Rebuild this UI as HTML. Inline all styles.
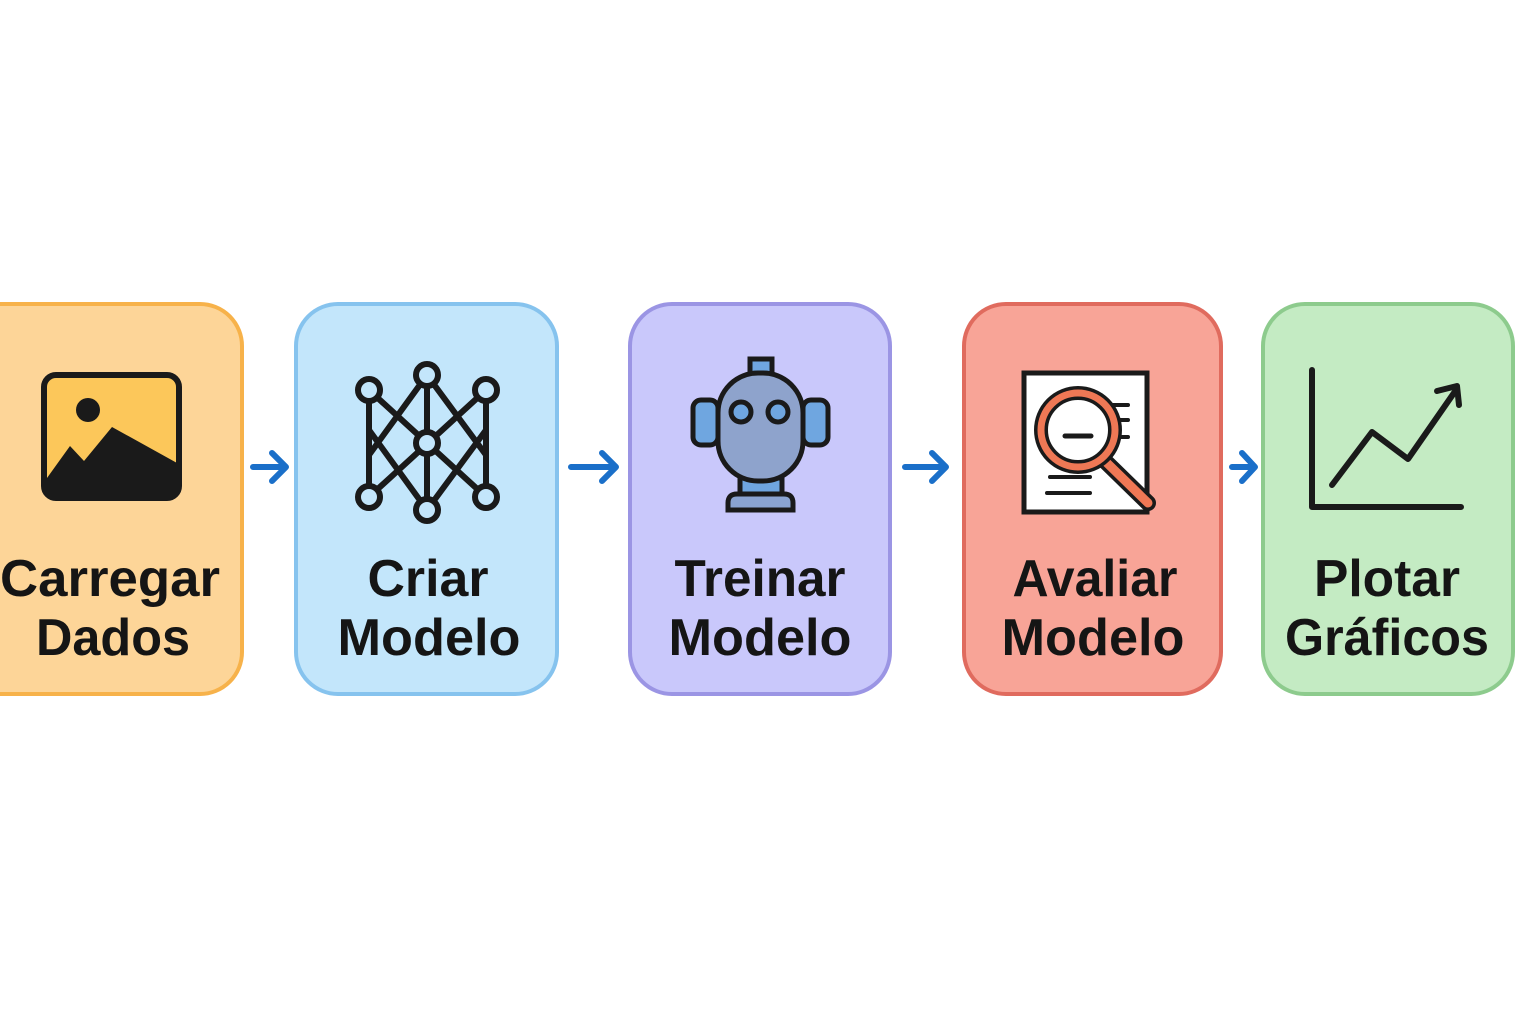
<!DOCTYPE html>
<html><head><meta charset="utf-8"><style>
html,body{margin:0;padding:0;background:#fff;width:1536px;height:1024px;overflow:hidden}
text{font-family:"Liberation Sans",sans-serif;font-weight:bold;fill:#151515;font-size:52px}
</style></head><body>
<svg width="1536" height="1024" viewBox="0 0 1536 1024" xmlns="http://www.w3.org/2000/svg">
<rect width="1536" height="1024" fill="#fff"/>
<rect x="-40" y="304" width="282" height="390" rx="42" fill="#fdd598" stroke="#f7b24a" stroke-width="4"/>
<rect x="296" y="304" width="261" height="390" rx="42" fill="#c3e6fb" stroke="#86c3ee" stroke-width="4"/>
<rect x="630" y="304" width="260" height="390" rx="42" fill="#c9c8fb" stroke="#9b95e4" stroke-width="4"/>
<rect x="964" y="304" width="257" height="390" rx="42" fill="#f8a497" stroke="#e06b5e" stroke-width="4"/>
<rect x="1263" y="304" width="250" height="390" rx="42" fill="#c4ebc3" stroke="#8dcb8d" stroke-width="4"/>
<g stroke="#1a6fc9" stroke-width="6" fill="none" stroke-linecap="round" stroke-linejoin="round">
<path d="M253 467H285M272 453L286 467L272 481"/>
<path d="M571 467H616M602 453L616 467L602 481"/>
<path d="M905 467H946M932 453L946 467L932 481"/>
<path d="M1232 467H1254M1242 453L1255 467L1242 481"/>
</g>
<rect x="44" y="375" width="135" height="123" rx="12" fill="#fcc75a" stroke="#1a1a1a" stroke-width="6"/>
<circle cx="88" cy="410" r="12" fill="#1a1a1a"/>
<path d="M47 478L70 446L84 461L112 427L177 463V495H47Z" fill="#1a1a1a"/>
<g stroke="#1a1a1a" stroke-width="6" fill="none">
<path d="M369 390V497M486 390V497M427 375V510M369 390L486 497M486 390L369 497M427 375L369 455M427 375L486 455M427 510L369 430M427 510L486 430"/>
<g fill="#c3e6fb">
<circle cx="369" cy="390" r="11"/><circle cx="427" cy="375" r="11"/><circle cx="486" cy="390" r="11"/>
<circle cx="427" cy="443" r="11"/><circle cx="369" cy="497" r="11"/><circle cx="427" cy="510" r="11"/><circle cx="486" cy="497" r="11"/>
</g></g>
<g stroke="#1a1a1a" stroke-width="5">
<rect x="750" y="359" width="22" height="17" fill="#6fa6e0"/>
<rect x="693" y="400" width="25" height="45" rx="8" fill="#6fa6e0"/>
<rect x="803" y="400" width="25" height="45" rx="8" fill="#6fa6e0"/>
<rect x="740" y="478" width="42" height="16" fill="#6fa6e0"/>
<path d="M728 510V503Q728 494 737 494H784Q793 494 793 503V510Z" fill="#8aa4d2"/>
<rect x="718" y="373" width="85" height="108" rx="40" fill="#8ea3cc"/>
<circle cx="741" cy="412" r="10" fill="#6fa6e0"/><circle cx="778" cy="412" r="10" fill="#6fa6e0"/>
</g>
<rect x="1024" y="373" width="123" height="139" fill="#fff" stroke="#1a1a1a" stroke-width="5"/>
<g stroke="#1a1a1a" stroke-width="4" stroke-linecap="round">
<path d="M1110 405H1128M1110 420H1128M1110 437H1128M1050 477H1090M1047 493H1090"/>
</g>
<path d="M1106 462L1148 503" stroke="#1a1a1a" stroke-width="16" stroke-linecap="round"/>
<path d="M1106 462L1148 503" stroke="#ef7855" stroke-width="9" stroke-linecap="round"/>
<circle cx="1078" cy="430" r="37" fill="#fff" stroke="#1a1a1a" stroke-width="14"/>
<circle cx="1078" cy="430" r="37" fill="none" stroke="#ef7855" stroke-width="7"/>
<path d="M1065 436H1091" stroke="#1a1a1a" stroke-width="5" stroke-linecap="round"/>
<g stroke="#1a1a1a" stroke-width="6" fill="none" stroke-linecap="round" stroke-linejoin="round">
<path d="M1312 370V507H1461"/>
<path d="M1332 485L1372 432L1408 459L1456 390"/>
<path d="M1437 391L1457 386L1459 405"/>
</g>
<text x="110" y="596" text-anchor="middle" textLength="220" lengthAdjust="spacingAndGlyphs">Carregar</text>
<text x="113" y="655" text-anchor="middle" textLength="154" lengthAdjust="spacingAndGlyphs">Dados</text>
<text x="428" y="596" text-anchor="middle" textLength="121" lengthAdjust="spacingAndGlyphs">Criar</text>
<text x="429" y="655" text-anchor="middle" textLength="183" lengthAdjust="spacingAndGlyphs">Modelo</text>
<text x="760" y="596" text-anchor="middle" textLength="171" lengthAdjust="spacingAndGlyphs">Treinar</text>
<text x="760" y="655" text-anchor="middle" textLength="183" lengthAdjust="spacingAndGlyphs">Modelo</text>
<text x="1095" y="596" text-anchor="middle" textLength="165" lengthAdjust="spacingAndGlyphs">Avaliar</text>
<text x="1093" y="655" text-anchor="middle" textLength="183" lengthAdjust="spacingAndGlyphs">Modelo</text>
<text x="1387" y="596" text-anchor="middle" textLength="146" lengthAdjust="spacingAndGlyphs">Plotar</text>
<text x="1387" y="655" text-anchor="middle" textLength="204" lengthAdjust="spacingAndGlyphs">Gráficos</text>
</svg>
</body></html>
